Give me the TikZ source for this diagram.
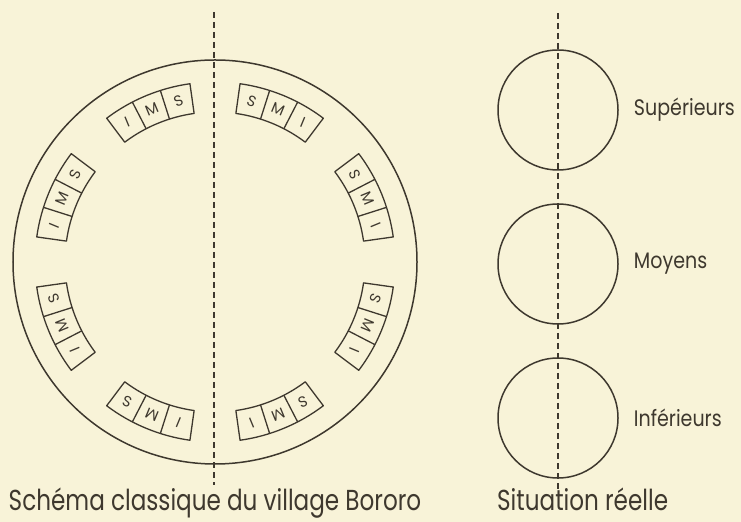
\documentclass[tikz,border=0pt]{standalone}
\usepackage{fontspec}
\setmainfont{Poppins}
\usetikzlibrary{positioning}
\definecolor{ink}{RGB}{62,56,46}
\definecolor{paper}{RGB}{248,243,216}
\tikzset{
  every picture/.style={x=1bp,y=1bp},
  ring/.style={draw=ink,line width=1.5bp,circle,inner sep=0pt},
  axis/.style={draw=ink,line width=1.3bp,dash pattern=on 6bp off 4bp},
  hut/.style={draw=ink,line width=1.3bp,line join=round},
  clan/.style={text=ink,font=\fontsize{15}{15}\selectfont,inner sep=0pt},
  lab/.style={text=ink,font=\fontsize{22.5}{22.5}\selectfont,inner sep=0pt,xscale=.85,transform shape},
  caption/.style={text=ink,font=\fontsize{29}{29}\selectfont,inner sep=0pt,xscale=.8,transform shape},
}

\begin{document}
\begin{tikzpicture}
  \fill[paper] (0,0) rectangle (741,522);
  \useasboundingbox (0,0) rectangle (741,522);
  % the classical plan
  \coordinate (o) at (215,260);
  \node[ring,minimum size=404bp] (village) at (o) {};
  \coordinate (axtop) at (214,510);
  \coordinate (axbot) at (214,37);
  \draw[axis] (axtop) -- (axbot);
  \begin{scope}[shift={(o)}]
    \foreach \a/\p/\q [count=\i] in {22.5/S/I,67.5/S/I,-22.5/S/I,-67.5/S/I,
                                     112.5/I/S,157.5/I/S,202.5/I/S,247.5/I/S}{
      \draw[hut] (\a+14.5:150) arc[start angle=\a+14.5,end angle=\a-14.5,radius=150]
        -- (\a-14.5:180) arc[start angle=\a-14.5,end angle=\a+14.5,radius=180] -- cycle;
      \draw[hut] (\a+4.83:150) -- (\a+4.83:180);
      \draw[hut] (\a-4.83:150) -- (\a-4.83:180);
      \node[clan,rotate=\a-90] (h\i a) at (\a+9.67:165) {\p};
      \node[clan,rotate=\a-90] (h\i b) at (\a:165) {M};
      \node[clan,rotate=\a-90] (h\i c) at (\a-9.67:165) {\q};
    }
  \end{scope}
  \node[caption,anchor=base] (plan) at (215,11) {Schéma classique du village Bororo};
  % the real situation
  \coordinate (rtop) at (558,509);
  \coordinate (rbot) at (558,29);
  \draw[axis] (rtop) -- (rbot);
  \node[ring,minimum size=120bp] (sup) at (558,412) {};
  \node[ring,minimum size=120bp] (moy) at (558,258) {};
  \node[ring,minimum size=120bp] (inf) at (558,104) {};
  \node[lab,right=15bp of sup] (supl) {Supérieurs};
  \node[lab,right=15bp of moy] (moyl) {Moyens};
  \node[lab,right=15bp of inf] (infl) {Inférieurs};
  \node[caption,anchor=base west] (reel) at (497,11) {Situation réelle};
\end{tikzpicture}
\end{document}
